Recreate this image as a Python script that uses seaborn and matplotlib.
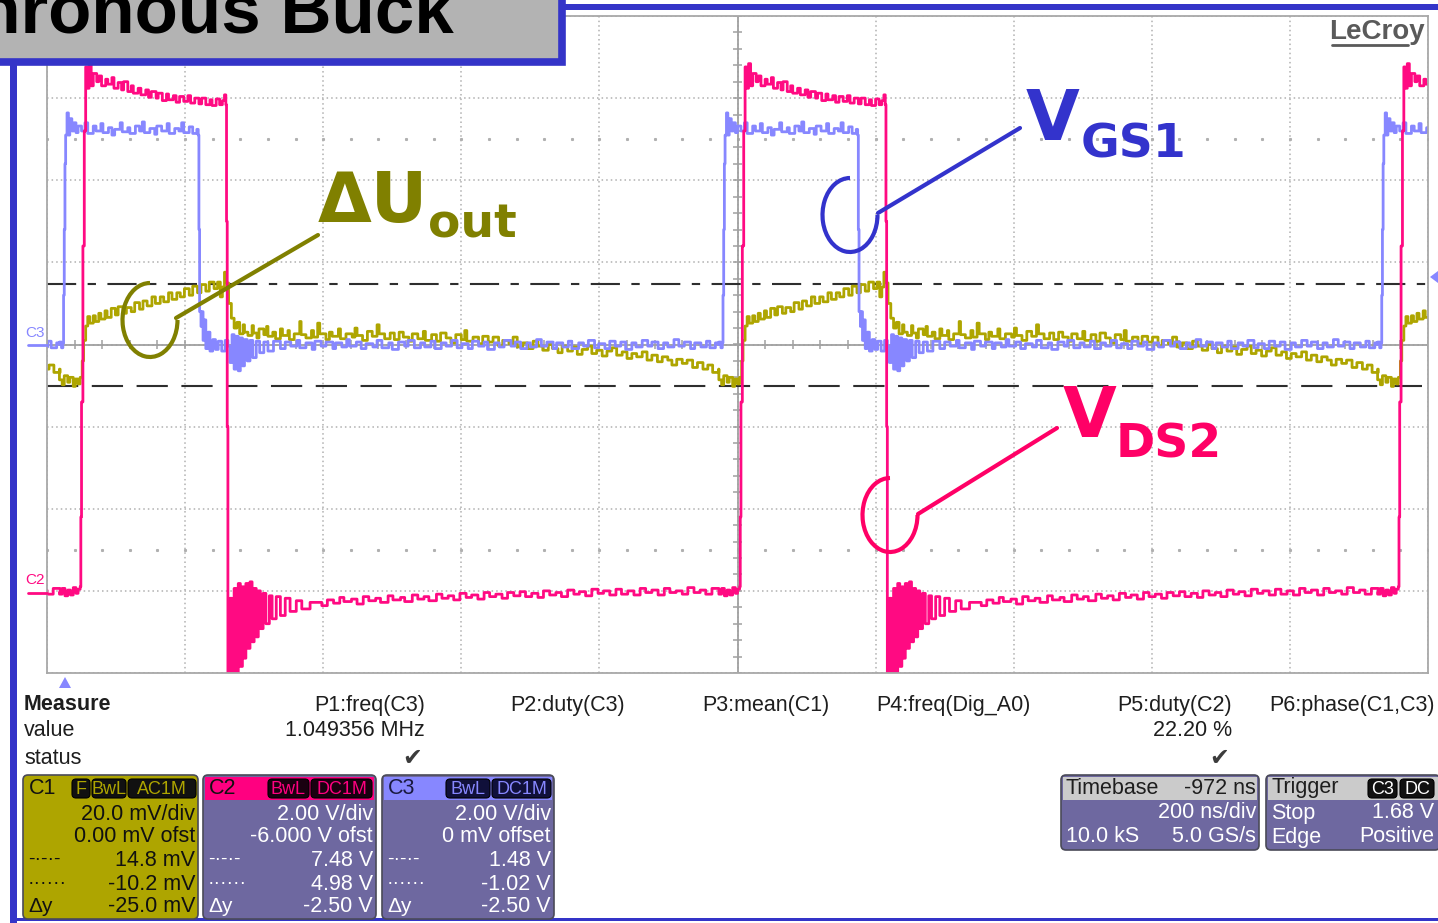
import matplotlib
matplotlib.use("Agg")
import matplotlib.pyplot as plt
from matplotlib.patches import Rectangle, FancyBboxPatch, Arc, Polygon
import seaborn as sns
import pandas as pd
import numpy as np

W, H = 1438, 923

# rising edge of the switch node (C2) in each period, ns
edges_ns = [-1906, -952, 3, 957]

# one switching period per channel, (time after C2 edge in ns, screen divisions)
c2_points = [(-30, -3.04), (-26, -2.97), (-22, -3.06), (-18, -2.99), (-14, -3.05), (-10, -2.96),
             (-6, -3.03), (-3, -2.98), (0, -2.95), (1, -2.1), (2, -0.7), (4, 1.2), (6, 2.6),
             (8, 3.38), (10, 3.12), (13, 3.42), (16, 3.15), (19, 3.3), (24, 3.2), (27, 3.27),
             (31, 3.15), (37, 3.23), (40, 3.17), (46, 3.25), (49, 3.12), (55, 3.19), (60, 3.1),
             (63, 3.2), (69, 3.08), (74, 3.15), (77, 3.06), (84, 3.12), (88, 3.04), (95, 3.1),
             (99, 3.01), (103, 3.08), (110, 3.0), (113, 3.06), (119, 2.97), (125, 3.05),
             (128, 2.98), (135, 3.03), (139, 2.95), (144, 3.02), (150, 2.96), (156, 3.03),
             (160, 2.94), (166, 3.0), (172, 2.93), (176, 3.0), (182, 2.92), (188, 2.98),
             (191, 2.91), (197, 2.99), (202, 2.92), (206, 2.97), (209, 3.04), (211, 2.92),
             (212, 1.5), (213, -1.0), (214, -4.05), (217, -3.09), (220, -4.05),
             (223, -2.97), (226, -4.05), (229, -2.91), (232, -3.92), (235, -2.95), (237, -3.82),
             (240, -2.91), (243, -3.70), (246, -2.89), (249, -3.62), (252, -2.97), (255, -3.56),
             (258, -3.00), (261, -3.46), (265, -3.03), (269, -3.40), (274, -3.06), (278, -3.34),
             (284, -3.07), (290, -3.30), (297, -3.09), (304, -3.25), (313, -3.12), (321, -3.22),
             (333, -3.14), (350, -3.18), (358, -3.11), (367, -3.15), (376, -3.08), (382, -3.13),
             (393, -3.10), (401, -3.16), (410, -3.07), (418, -3.12), (428, -3.09), (435, -3.14),
             (446, -3.06), (453, -3.11), (464, -3.08), (470, -3.13), (481, -3.05), (489, -3.10),
             (498, -3.07), (505, -3.12), (516, -3.04), (524, -3.09), (533, -3.06), (541, -3.11),
             (550, -3.03), (559, -3.08), (567, -3.05), (576, -3.10), (585, -3.02), (593, -3.07),
             (602, -3.04), (611, -3.09), (619, -3.02), (628, -3.06), (637, -3.01), (645, -3.07),
             (654, -3.03), (663, -3.08), (671, -3.0), (680, -3.05), (689, -3.02), (697, -3.07),
             (706, -2.99), (715, -3.04), (723, -3.01), (732, -3.06), (741, -2.98), (750, -3.03),
             (758, -3.0), (767, -3.05), (776, -2.98), (784, -3.04), (793, -3.0), (802, -3.05),
             (811, -2.97), (819, -3.02), (828, -2.99), (837, -3.05), (846, -2.97), (854, -3.02),
             (863, -3.0), (872, -3.04), (880, -2.96), (889, -3.02), (898, -2.99), (906, -3.04),
             (915, -2.97), (925, -3.02)]

c3_points = [(-30, 0.03), (-27, -0.04), (-25, 0.02), (-24, 0.6), (-23, 1.4), (-22, 2.2),
             (-21, 2.55), (-19, 2.82), (-17, 2.55), (-15, 2.75), (-12, 2.6), (-9, 2.7),
             (-6, 2.58), (-3, 2.66), (2, 2.6), (7, 2.7), (11, 2.57), (19, 2.66), (23, 2.6),
             (30, 2.69), (33, 2.58), (41, 2.64), (46, 2.55), (50, 2.62), (58, 2.7), (61, 2.59),
             (69, 2.64), (72, 2.57), (80, 2.66), (86, 2.6), (90, 2.71), (93, 2.58), (101, 2.63),
             (108, 2.56), (111, 2.66), (118, 2.6), (126, 2.69), (129, 2.57), (137, 2.63),
             (143, 2.6), (147, 2.7), (150, 2.58), (158, 2.65), (163, 2.57), (169, 2.62),
             (171, 2.55), (172, 1.4), (173, 0.4), (175, 0.22), (176, 0.4), (178, 0.05),
             (180, 0.3), (182, -0.05), (185, 0.15), (188, -0.08), (192, 0.06), (196, -0.06),
             (200, 0.04), (205, -0.08), (210, 0.05), (214, -0.02), (217, -0.22), (220, 0.12),
             (223, -0.3), (226, 0.1), (229, -0.32), (232, 0.08), (235, -0.26), (238, 0.06),
             (242, -0.2), (246, 0.05), (250, -0.16), (255, 0.04), (260, -0.1), (266, 0.03),
             (272, -0.08), (280, 0.04), (290, -0.05), (297, 0.03), (305, -0.02), (314, 0.05),
             (318, -0.04), (327, 0.02), (336, -0.06), (340, 0.04), (349, -0.02), (356, 0.03),
             (366, -0.05), (370, 0.02), (379, -0.03), (386, 0.06), (390, -0.02), (400, 0.03),
             (407, -0.05), (414, 0.01), (424, -0.03), (430, 0.05), (437, -0.04), (447, 0.02),
             (452, -0.06), (461, 0.03), (470, -0.02), (475, 0.05), (484, -0.04), (493, 0.02),
             (499, -0.03), (508, 0.04), (514, -0.05), (523, 0.02), (530, -0.02), (538, 0.05),
             (546, -0.04), (553, 0.01), (562, -0.05), (568, 0.04), (577, -0.02), (585, 0.03),
             (590, -0.06), (600, 0.02), (607, -0.03), (614, 0.05), (624, -0.02), (630, 0.03),
             (638, -0.05), (647, 0.02), (652, -0.03), (661, 0.06), (668, -0.02), (676, 0.03),
             (685, -0.05), (690, 0.02), (699, -0.03), (707, 0.04), (712, -0.05), (722, 0.02),
             (729, -0.02), (736, 0.05), (745, -0.04), (751, 0.01), (760, -0.05), (767, 0.04),
             (775, -0.02), (783, 0.03), (790, -0.06), (799, 0.02), (805, -0.03), (814, 0.05),
             (822, -0.02), (828, 0.03), (837, -0.05), (845, 0.02), (851, -0.03), (860, 0.06),
             (867, -0.02), (875, 0.03), (884, -0.05), (890, 0.02), (899, -0.03), (907, 0.04),
             (912, -0.04), (920, 0.02), (925, 0.0)]

# output ripple C1 in mV (20 mV/div)
c1_points = [(-30, -8.6), (-26, -9.8), (-23, -7.6), (-18, -9.2), (-15, -8.0), (-10, -10.2),
             (-7, -8.4), (-3, -9.6), (0, -8.0), (3, -4.0), (5, 1.0), (8, 4.5), (11, 6.8),
             (14, 5.2), (19, 7.0), (22, 5.6), (27, 7.6), (30, 6.2), (36, 8.2), (39, 6.6),
             (45, 8.8), (51, 7.2), (55, 9.2), (62, 7.6), (67, 9.0), (74, 8.0), (79, 10.2),
             (86, 8.6), (91, 10.6), (97, 9.4), (104, 11.6), (109, 10.0), (116, 11.6),
             (121, 10.4), (128, 12.6), (133, 11.0), (140, 12.6), (145, 11.6), (151, 13.6),
             (158, 12.0), (163, 14.2), (170, 12.6), (175, 14.6), (182, 13.0), (187, 15.2),
             (194, 13.6), (199, 15.2), (203, 11.6), (206, 14.0), (209, 17.6), (212, 15.0),
             (215, 10.0), (219, 6.4), (223, 4.0), (227, 5.4), (231, 2.6), (236, 4.8), (238, 3.0),
             (243, 2.2), (249, 4.6), (251, 2.8), (256, 1.6), (259, 3.8), (266, 2.4), (270, 4.4),
             (272, 2.0), (279, 3.0), (283, 1.4), (290, 3.8), (293, 2.2), (301, 3.4), (303, 1.2),
             (310, 2.6), (318, 5.6), (320, 2.4), (327, 1.6), (335, 3.4), (338, 1.8), (344, 5.2),
             (347, 2.6), (356, 1.2), (361, 3.0), (365, 2.0), (374, 3.8), (377, 1.4), (385, 2.6),
             (394, 1.8), (398, 4.0), (401, 2.2), (409, 1.0), (416, 3.2), (423, 2.0), (430, 4.8),
             (433, 2.6), (441, 1.4), (449, 2.8), (455, 1.2), (462, 3.0), (468, 1.8), (476, 0.8),
             (481, 2.6), (489, 1.4), (497, 3.2), (500, 1.0), (509, 2.4), (516, 0.8), (522, 2.8),
             (530, 1.6), (537, 0.4), (544, 2.4), (552, 1.2), (557, 3.4), (560, 0.8), (569, 1.8),
             (577, 0.2), (583, 2.0), (591, 0.6), (598, 1.8), (606, -0.4), (612, 1.0), (621, 0.2),
             (627, 1.8), (633, -0.6), (641, 0.4), (648, -1.0), (656, 0.8), (663, -0.4),
             (670, -1.4), (678, 0.0), (684, -1.0), (692, -2.0), (698, -0.4), (706, -1.6),
             (713, -0.6), (720, -2.4), (727, -1.2), (735, -0.4), (741, -2.2), (748, -1.4),
             (756, -2.8), (763, -1.6), (770, -0.8), (777, -2.6), (785, -1.8), (792, -3.4),
             (799, -2.2), (806, -3.0), (814, -1.8), (821, -3.8), (828, -2.6), (836, -4.2),
             (843, -3.0), (851, -3.8), (857, -5.0), (864, -3.6), (872, -4.6), (879, -3.8),
             (887, -5.6), (894, -4.4), (902, -6.0), (909, -5.0), (916, -6.8), (925, -6.0)]

c1_cursor_mv = [14.8, -10.2]

measure_names = ["P1:freq(C3)", "P2:duty(C3)", "P3:mean(C1)", "P4:freq(Dig_A0)",
                 "P5:duty(C2)", "P6:phase(C1,C3)"]
measure_values = ["1.049356 MHz", "", "", "", "22.20 %", ""]

c1_rows = ["20.0 mV/div", "0.00 mV ofst", "14.8 mV", "-10.2 mV", "-25.0 mV"]
c2_rows = ["2.00 V/div", "-6.000 V ofst", "7.48 V", "4.98 V", "-2.50 V"]
c3_rows = ["2.00 V/div", "0 mV offset", "1.48 V", "-1.02 V", "-2.50 V"]

OLIVE, BLUE, PINK = "#aea500", "#8787ff", "#ff0a82"
FRAME = "#3434c8"
PANEL = "#6e68a0"


def tile(points):
    tau, val = map(np.array, zip(*points))
    t = np.concatenate([tau + e for e in edges_ns])
    return t, np.tile(val, len(edges_ns))


frames = []
for ch, pts, scale in [("C1", c1_points, 1 / 20), ("C3", c3_points, 1), ("C2", c2_points, 1)]:
    t, v = tile(pts)
    frames.append(pd.DataFrame({"t_ns": t, "div": v * scale, "ch": ch}))
df = pd.concat(frames, ignore_index=True)

sns.set_style("white")
plt.rcParams["font.family"] = ["Liberation Sans", "DejaVu Sans"]

fig = plt.figure(figsize=(W / 100, H / 100), dpi=100, facecolor="white")
ax = fig.add_axes([47 / W, 1 - 673 / H, (1428 - 47) / W, (673 - 16) / H])

# graticule
ax.set_xlim(-1000, 1000)
ax.set_ylim(-4, 4)
ax.set_xticks(np.arange(-1000, 1001, 200))
ax.set_yticks(np.arange(-4, 5, 1))
ax.grid(True, color="#b0b0b0", ls=(0, (1, 2)), lw=1.1)
ax.tick_params(length=0, labelbottom=False, labelleft=False)
for s in ax.spines.values():
    s.set_color("#a8a8a8")
    s.set_linewidth(1.3)
ax.axhline(0, color="#a0a0a0", lw=1.3, zorder=1.2)
ax.axvline(0, color="#a0a0a0", lw=1.3, zorder=1.2)
ax.vlines(np.arange(-1000, 1001, 40), -0.055, 0.055, color="#a0a0a0", lw=1.1, zorder=1.2)
ax.hlines(np.arange(-4, 4.01, 0.2), -7, 7, color="#a0a0a0", lw=1.1, zorder=1.2)
for yy in (2.5, -2.5):
    ax.plot(np.arange(-1000, 1001, 40), np.full(51, yy), ls="", marker="s", ms=1.2,
            color="#b0b0b0", zorder=1.1)

# C1 cursors
ax.axhline(c1_cursor_mv[0] / 20, color="#2e2e2e", lw=1.5, ls=(0, (14, 5.5, 4, 5.5)), zorder=1.5)
ax.axhline(c1_cursor_mv[1] / 20, color="#2e2e2e", lw=1.5, ls=(0, (15, 6.5)), zorder=1.5)

sns.lineplot(data=df, x="t_ns", y="div", hue="ch", hue_order=["C1", "C3", "C2"],
             palette={"C1": OLIVE, "C3": BLUE, "C2": PINK}, estimator=None, sort=False,
             lw=2.0, drawstyle="steps-post", legend=False, ax=ax)
ax.set_xlabel("")
ax.set_ylabel("")

# overlay in pixel coordinates for the screen furniture
bg = fig.add_axes([0, 0, 1, 1])
bg.set_xlim(0, W)
bg.set_ylim(H, 0)
bg.axis("off")


def txt(x, y, s, size=15.5, color="#1e1e1e", ha="left", va="center", **kw):
    bg.text(x, y, s, fontsize=size, color=color, ha=ha, va=va, **kw)


def rbox(x0, y0, x1, y1, fc, ec="#4a4a58", lw=1.2, r=5, z=3):
    bg.add_patch(FancyBboxPatch((x0, y0), x1 - x0, y1 - y0,
                                boxstyle=f"round,pad=0,rounding_size={r}",
                                fc=fc, ec=ec, lw=lw, zorder=z))


# slide frame and title (cut off at the slide edge, as in the source)
bg.add_patch(Rectangle((-20, -20), 582, 82, fc="#b3b3b3", ec=FRAME, lw=5.5, zorder=2))
bg.add_patch(Rectangle((562, 4), W - 562, 6, fc=FRAME, ec="none", zorder=2))
bg.add_patch(Rectangle((10, 62), 7, H - 62, fc=FRAME, ec="none", zorder=2))
bg.add_patch(Rectangle((10, 918), W - 10, 3, fc=FRAME, ec="none", zorder=2))
bg.text(454, 33, "Synchronous Buck", fontsize=51, fontweight="bold", color="black",
        ha="right", va="baseline", zorder=4)

txt(1377, 32, "LeCroy", size=20, color="#5a5a5a", ha="center", fontweight="bold")
bg.plot([1332, 1408], [45, 45], color="#5a5a5a", lw=2)

# channel markers at the graticule edge
txt(25, 333, "C3", size=11, color=BLUE)
bg.plot([28, 47], [345, 345], color=BLUE, lw=2)
txt(25, 580, "C2", size=11, color=PINK)
bg.plot([28, 47], [593, 593], color=PINK, lw=2)
bg.add_patch(Polygon([[59, 688], [71, 688], [65, 677]], closed=True, fc=BLUE, ec="none"))
bg.add_patch(Polygon([[1430, 277], [1438, 271], [1438, 283]], closed=True, fc=BLUE, ec="none"))

# callouts
for (tx, ty, main, sub, sx, sy, col, l0, l1, cx, cy) in [
        (318, 222, "ΔU", "out", 428, 238, "#808000", (318, 235), (176, 318), 150, 320),
        (1026, 140, "V", "GS1", 1081, 157, "#3333cc", (1020, 128), (878, 213), 850, 215),
        (1063, 437, "V", "DS2", 1116, 457, "#ff0066", (1057, 428), (918, 514), 890, 515)]:
    bg.text(tx, ty, main, fontsize=50, fontweight="bold", family="DejaVu Sans", color=col,
            va="baseline")
    bg.text(sx, sy, sub, fontsize=34, fontweight="bold", family="DejaVu Sans", color=col,
            va="baseline")
    bg.plot([l0[0], l1[0]], [l0[1], l1[1]], color=col, lw=3, solid_capstyle="round")
    bg.add_patch(Arc((cx, cy), 55, 74, theta1=0, theta2=270, color=col, lw=3))

# measure table
txt(24, 705, "Measure", fontweight="bold")
txt(24, 731, "value")
txt(24, 758, "status")
name_right = [425, 625, 829, 1031, 1232, 1435]
for xr, name, val in zip(name_right, measure_names, measure_values):
    txt(xr, 705, name, ha="right")
    if val:
        txt(xr, 731, val, ha="right")
        txt(xr - 3, 758, "✔", size=17, color="#3c3c3c", ha="right", family="DejaVu Sans")

row_y = [814, 837, 860, 884, 907]
left_marks = ["-·-·-", "······", "Δy"]


def channel_box(x0, x1, name, head_fc, head_tc, body_fc, body_tc, badges, rows):
    rbox(x0, 775, x1, 919, body_fc)
    if head_fc != body_fc:
        bg.add_patch(Rectangle((x0 + 2, 777), x1 - x0 - 4, 23, fc=head_fc, ec="none", zorder=3.1))
    txt(x0 + 6, 788, name, color=head_tc, zorder=4)
    for bx0, bx1, label, bfc, btc in badges:
        rbox(bx0, 779, bx1, 798, bfc, ec="#000000", lw=0.8, r=4, z=3.5)
        txt((bx0 + bx1) / 2, 789, label, size=13, color=btc, ha="center", zorder=4)
    for yy, s in zip(row_y, rows):
        txt(x1 - 3, yy, s, color=body_tc, ha="right", zorder=4)
    for yy, s in zip(row_y[2:], left_marks):
        txt(x0 + 5, yy, s, size=14 if s != "Δy" else 15, color=body_tc, zorder=4)


channel_box(23, 198, "C1", OLIVE, "#111111", OLIVE, "#111111",
            [(72, 90, "F", "#111111", OLIVE), (92, 126, "BwL", "#111111", OLIVE),
             (128, 196, "AC1M", "#111111", OLIVE)], c1_rows)
channel_box(203, 376, "C2", "#ff0080", "#111111", PANEL, "white",
            [(268, 309, "BwL", "#1a0010", "#ff0080"), (311, 372, "DC1M", "#1a0010", "#ff0080")],
            c2_rows)
channel_box(382, 554, "C3", BLUE, "#1a1a40", PANEL, "white",
            [(446, 490, "BwL", "#10103a", BLUE), (492, 551, "DC1M", "#10103a", BLUE)],
            c3_rows)

# timebase and trigger boxes
for x0, x1 in [(1061, 1259), (1266, 1440)]:
    rbox(x0, 775, x1, 850, PANEL)
    bg.add_patch(Rectangle((x0 + 2, 777), x1 - x0 - 4, 23, fc="#cbcbcb", ec="none", zorder=3.1))
txt(1066, 788, "Timebase", zorder=4)
txt(1256, 788, "-972 ns", ha="right", zorder=4)
txt(1256, 813, "200 ns/div", color="white", ha="right", zorder=4)
txt(1066, 837, "10.0 kS", color="white", zorder=4)
txt(1256, 837, "5.0 GS/s", color="white", ha="right", zorder=4)
txt(1271, 788, "Trigger", zorder=4)
for bx0, bx1, label in [(1368, 1397, "C3"), (1400, 1434, "DC")]:
    rbox(bx0, 779, bx1, 798, "#111111", ec="#000000", lw=0.8, r=4, z=3.5)
    txt((bx0 + bx1) / 2, 789, label, size=13, color="white", ha="center", zorder=4)
txt(1271, 813, "Stop", color="white", zorder=4)
txt(1434, 813, "1.68 V", color="white", ha="right", zorder=4)
txt(1271, 837, "Edge", color="white", zorder=4)
txt(1434, 837, "Positive", color="white", ha="right", zorder=4)

fig.savefig("out.png", dpi=100, facecolor="white")
